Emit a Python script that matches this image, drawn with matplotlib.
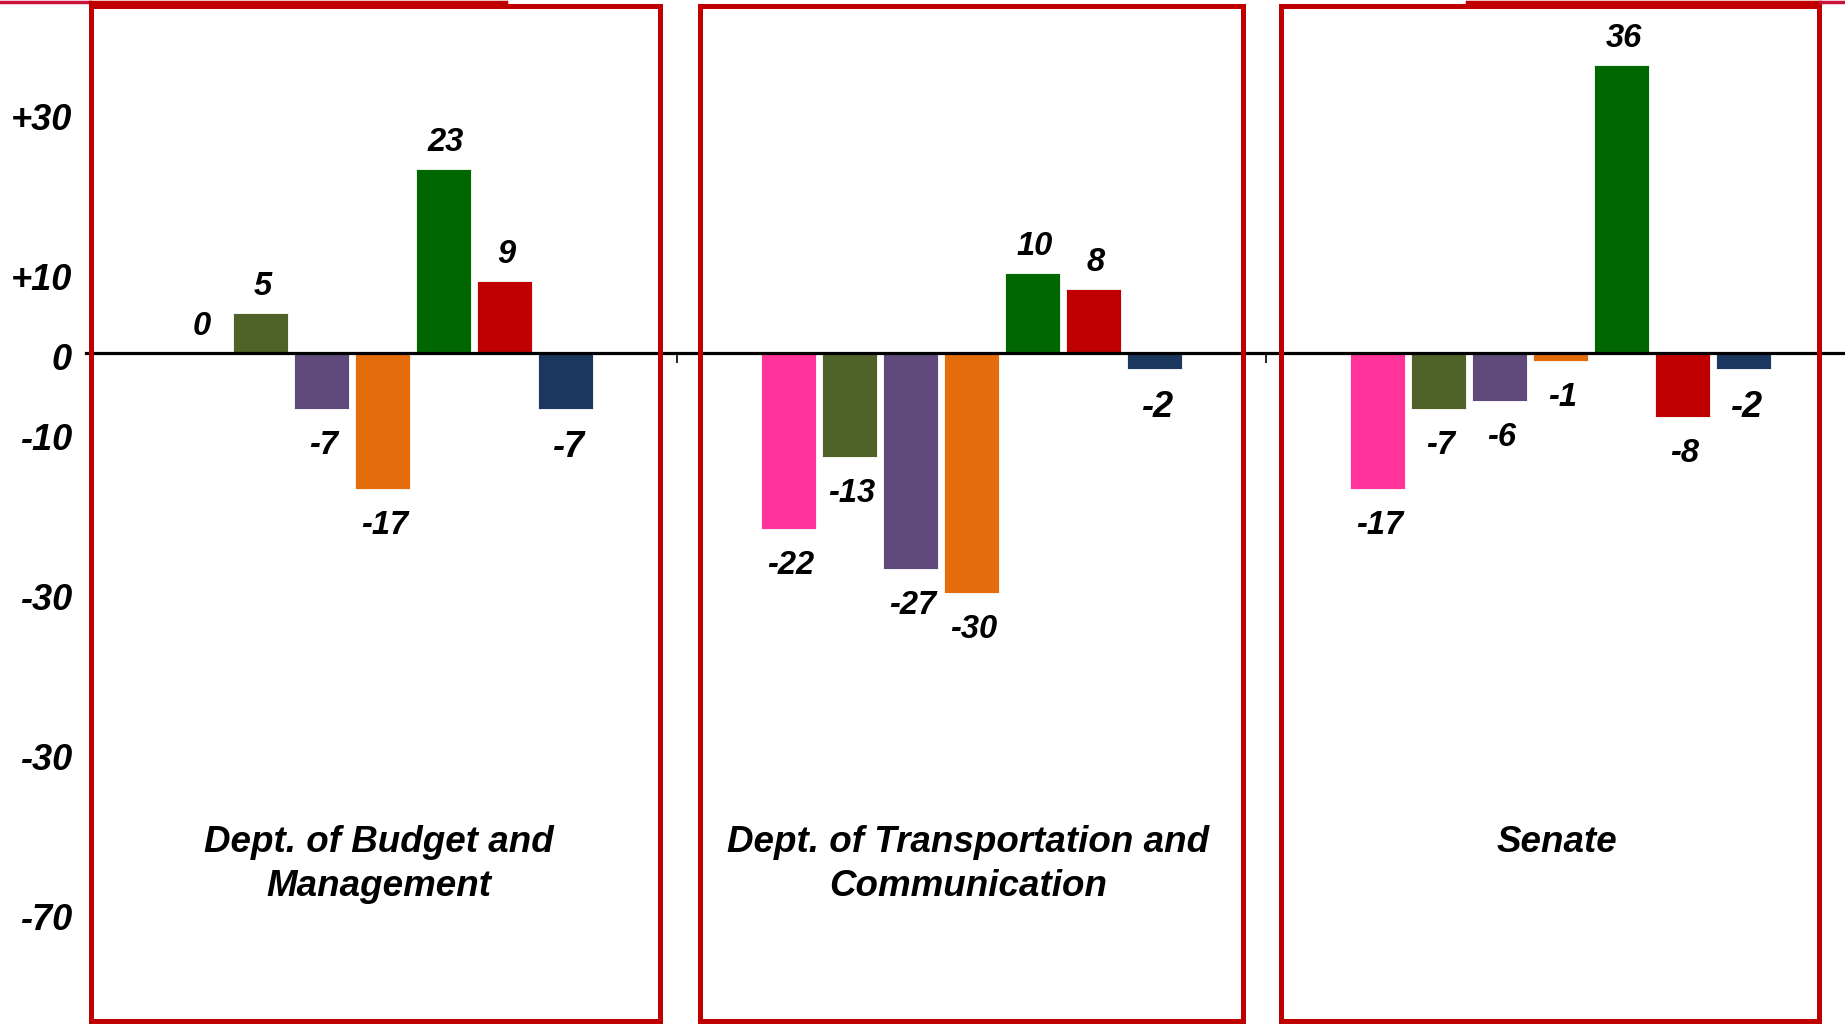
import numpy as np
import matplotlib
matplotlib.use("Agg")
from matplotlib import pyplot as plt
from matplotlib.patches import Rectangle
from matplotlib.lines import Line2D
import matplotlib.transforms as mtransforms

plt.rcParams['font.family'] = ['Liberation Sans', 'DejaVu Sans']

# 数据
departments = ["Dept. of Budget and\nManagement",
               "Dept. of Transportation and\nCommunication",
               "Senate"]
series_colors = ['#FF3399', '#4F6228', '#604A7B', '#E46C0A', '#006600', '#C00000', '#1B375E']
budget = [0, 5, -7, -17, 23, 9, -7]
transport = [-22, -13, -27, -30, 10, 8, -2]
senate = [-17, -7, -6, -1, 36, -8, -2]
values = [budget, transport, senate]
ytick_values = [30, 10, 0, -10, -30, -50, -70]
ytick_labels = ['+30', '+10', '0', '-10', '-30', '-30', '-70']

W, H = 1845, 1025
fig = plt.figure(figsize=(W / 100, H / 100), dpi=100)
ax = fig.add_axes([86 / W, 0, (W - 86) / W, 1])

group_px = 589.0
step = 61.0 / group_px
width = 55.0 / group_px

for g, vals in enumerate(values):
    for j, v in enumerate(vals):
        x = g + (j - 3) * step
        ax.bar(x, v, width=width, color=series_colors[j], edgecolor='#FFFFFF',
               linewidth=0.6, zorder=2)
        big = (j == 6)
        fs = 26 if big else 23.5
        if v >= 0:
            off = 19
        else:
            off = -28 if big else -26
        ax.annotate(str(v), (x, v), xytext=(2, off), textcoords='offset points',
                    ha='center', va='center', fontsize=fs,
                    fontweight='bold', fontstyle='italic', color='black')

# 坐标范围
ax.set_xlim((86 - 382) / group_px, (W - 382) / group_px)
ax.set_ylim(-(H - 353) / 8.0, 353 / 8.0)

for s in ['top', 'right', 'left']:
    ax.spines[s].set_visible(False)
ax.spines['bottom'].set_position(('data', 0))
ax.spines['bottom'].set_linewidth(2.3)
ax.set_xticks([0.5, 1.5])
ax.set_xticklabels([])
ax.tick_params(axis='x', direction='out', length=7, width=1.2, color='black')

ax.set_yticks(ytick_values)
ax.set_yticklabels(ytick_labels, fontsize=26, fontweight='bold', fontstyle='italic')
ax.tick_params(axis='y', length=0, pad=10)
shift = mtransforms.ScaledTranslation(0, -4 / 100, fig.dpi_scale_trans)
for lab in ax.get_yticklabels():
    lab.set_transform(lab.get_transform() + shift)

# 面板标题（逐行放置）
tr = mtransforms.blended_transform_factory(ax.transData, ax.transAxes)
for g, name in enumerate(departments):
    for i, line in enumerate(name.split('\n')):
        ax.text(g - 0.005, (H - 842.5 - 44 * i) / H, line, transform=tr,
                ha='center', va='center', fontsize=26.5, fontweight='bold',
                fontstyle='italic')

# 红色边框
boxes = [(91, 660), (700, 1243), (1281, 1819)]
top, bottom = 5.5, 1021
for left, right in boxes:
    fig.add_artist(Rectangle((left / W, 1 - bottom / H), (right - left) / W,
                             (bottom - top) / H, transform=fig.transFigure,
                             fill=False, edgecolor='#C00000', linewidth=3.6, zorder=5))

# 顶部残留红线
fig.add_artist(Line2D([0, 90 / W], [1 - 1.5 / H] * 2, transform=fig.transFigure,
                      color='#C8143C', linewidth=2.5))
fig.add_artist(Line2D([90 / W, 506 / W], [1 - 1.5 / H] * 2, transform=fig.transFigure,
                      color='#C00000', linewidth=2.5))
fig.add_artist(Line2D([1467 / W, 1820 / W], [1 - 1.5 / H] * 2, transform=fig.transFigure,
                      color='#C00000', linewidth=2.5))
fig.add_artist(Line2D([1820 / W, 1], [1 - 1.5 / H] * 2, transform=fig.transFigure,
                      color='#C8143C', linewidth=2.5))

fig.savefig('out.png', dpi=100)
